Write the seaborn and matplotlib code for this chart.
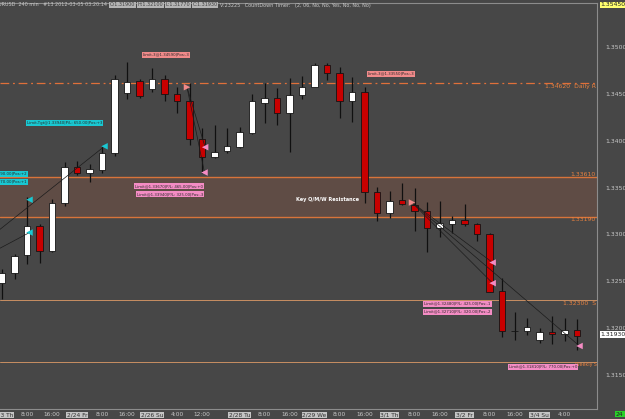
import matplotlib
matplotlib.use('Agg')
import matplotlib.pyplot as plt
import matplotlib.transforms as mtransforms
import seaborn as sns

# EURUSD 240 min candles, bar 0 = 2/23 00:00
opens = [1.3248, 1.3259, 1.3278, 1.3309, 1.3282, 1.3334, 1.3372, 1.3365, 1.3369, 1.3387,
         1.3451, 1.3464, 1.3455, 1.3466, 1.3450, 1.3442, 1.3402, 1.3383, 1.3389, 1.3393,
         1.3408, 1.3440, 1.3445, 1.3430, 1.3449, 1.3457, 1.3481, 1.3472, 1.3442, 1.3452,
         1.3345, 1.3323, 1.3337, 1.3331, 1.3325, 1.3307, 1.3311, 1.3315, 1.3311, 1.3300,
         1.3240, 1.3197, 1.3197, 1.3187, 1.3196, 1.3194, 1.3198]
highs = [1.3263, 1.3279, 1.3340, 1.3311, 1.3338, 1.3377, 1.3378, 1.3375, 1.3394, 1.3470,
         1.3484, 1.3466, 1.3478, 1.3470, 1.3457, 1.3462, 1.3414, 1.3417, 1.3413, 1.3415,
         1.3450, 1.3462, 1.3456, 1.3467, 1.3469, 1.3483, 1.3483, 1.3479, 1.3468, 1.3457,
         1.3351, 1.3346, 1.3355, 1.3349, 1.3335, 1.3336, 1.3320, 1.3332, 1.3312, 1.3302,
         1.3254, 1.3217, 1.3211, 1.3200, 1.3213, 1.3211, 1.3210]
lows = [1.3231, 1.3252, 1.3268, 1.3270, 1.3281, 1.3330, 1.3363, 1.3356, 1.3365, 1.3384,
        1.3444, 1.3445, 1.3452, 1.3442, 1.3430, 1.3395, 1.3366, 1.3382, 1.3387, 1.3392,
        1.3407, 1.3419, 1.3417, 1.3388, 1.3444, 1.3457, 1.3465, 1.3424, 1.3420, 1.3334,
        1.3314, 1.3318, 1.3331, 1.3304, 1.3281, 1.3297, 1.3301, 1.3309, 1.3293, 1.3239,
        1.3191, 1.3187, 1.3193, 1.3184, 1.3183, 1.3186, 1.3177]
closes = [1.3259, 1.3277, 1.3309, 1.3282, 1.3334, 1.3372, 1.3365, 1.3370, 1.3387, 1.3466,
          1.3463, 1.3448, 1.3466, 1.3450, 1.3442, 1.3402, 1.3383, 1.3388, 1.3394, 1.3409,
          1.3442, 1.3446, 1.3430, 1.3449, 1.3457, 1.3481, 1.3472, 1.3442, 1.3452, 1.3345,
          1.3323, 1.3336, 1.3332, 1.3325, 1.3307, 1.3312, 1.3315, 1.3311, 1.3300, 1.3239,
          1.3197, 1.3197, 1.3201, 1.3196, 1.3194, 1.3198, 1.3192]

tick_bars = [0, 2, 4, 6, 8, 10, 12, 14, 16, 19, 21, 23, 25, 27, 29, 31, 33, 35, 37, 39, 41, 43, 45]
tick_labels = ['2/23 Th', '8:00', '16:00', '2/24 Fr', '8:00', '16:00', '2/26 Su', '4:00', '12:00',
               '2/28 Tu', '8:00', '16:00', '2/29 We', '8:00', '16:00', '3/1 Th', '8:00', '16:00',
               '3/2 Fr', '8:00', '16:00', '3/4 Su', '4:00']
price_ticks = [1.315, 1.320, 1.325, 1.330, 1.335, 1.340, 1.345, 1.350]

zone_low, zone_high = 1.3319, 1.3361
daily_r = 1.3462
support_s = 1.3230
weekly_s = 1.3164

# order labels: (right edge bar, price, text, colour)
order_labels = [
    (8.0, 1.34186, 'Limit-Tgt@1.33940|P/L: 650.00|Pos:+3', '#19c8d2'),
    (2.0, 1.33644, 'Limit-Tgt@1.33940|P/L: 590.00|Pos:+2', '#19c8d2'),
    (2.0, 1.33559, 'Limit-Tgt@1.33940|P/L: 570.00|Pos:+1', '#19c8d2'),
    (15.0, 1.34915, 'Limit-3@1.34590|Pos:-3', '#f08a8a'),
    (33.0, 1.34713, 'Limit-3@1.33550|Pos:-3', '#f08a8a'),
    (16.1, 1.33516, 'Limit@1.33670|P/L: 465.00|Pos:+0', '#f48cc4'),
    (16.1, 1.33426, 'Limit@1.33940|P/L: 325.00|Pos:-3', '#f48cc4'),
    (39.1, 1.32261, 'Limit@1.32480|P/L: 425.00|Pos:-1', '#f48cc4'),
    (39.1, 1.32176, 'Limit@1.32710|P/L: 320.00|Pos:-2', '#f48cc4'),
    (46.0, 1.31590, 'Limit@1.31810|P/L: 770.00|Pos:+0', '#f48cc4'),
]
# fill markers: (bar, price, marker, colour)
fills = [
    (2.2, 1.3337, '<', '#19c8d2'), (2.2, 1.3302, '<', '#19c8d2'), (8.2, 1.3394, '<', '#19c8d2'),
    (14.8, 1.3457, '>', '#f08a8a'), (16.25, 1.3393, '<', '#f48cc4'), (16.2, 1.3366, '<', '#f48cc4'),
    (32.8, 1.3334, '>', '#f08a8a'), (39.25, 1.3270, '<', '#f48cc4'), (39.25, 1.3248, '<', '#f48cc4'),
    (46.2, 1.3181, '<', '#f48cc4'),
]
# trade lines: (bar0, price0, bar1, price1)
trade_lines = [
    (-0.2, 1.3305, 8.2, 1.3394), (-0.2, 1.3285, 2.2, 1.3302),
    (14.8, 1.3457, 16.25, 1.3393), (14.8, 1.3457, 16.2, 1.3366),
    (32.8, 1.3334, 39.25, 1.3270), (32.8, 1.3334, 39.25, 1.3248), (32.8, 1.3334, 46.2, 1.3181),
]

header_parts = [('EURUSD  240 min   #13 2012-03-05 03:20:14', False), ('O:1.31900', True),
                ('H:1.32100', True), ('L:1.31770', True), ('C:1.31930', True),
                ('V:23225   CountDown Timer:   (2, 06, No, No, Yes, No, No, No)', False)]

bg = '#474747'
sns.set_theme(style='dark', rc={'axes.facecolor': bg, 'figure.facecolor': bg,
                                'axes.edgecolor': '#8c8c8c', 'axes.grid': False})
plt.rcParams['font.family'] = ['Liberation Sans Narrow', 'DejaVu Sans']

fig = plt.figure(figsize=(6.25, 4.19), dpi=100)
ax = fig.add_axes([0, 10 / 419, 597 / 625, 406 / 419])

# zone and levels
ax.axhspan(zone_low, zone_high, color='#5f4c45', zorder=0, lw=0)
ax.axhline(zone_high, color='#d8743a', lw=1.0, zorder=1)
ax.axhline(zone_low, color='#d8743a', lw=1.0, zorder=1)
ax.axhline(daily_r, color='#e0703a', lw=0.9, ls=(0, (7, 3, 1.5, 3)), zorder=1)
ax.axhline(support_s, color='#c98f62', lw=0.7, zorder=1)
ax.axhline(weekly_s, color='#c98f62', lw=0.7, zorder=1)

# candles
bars = list(range(len(opens)))
ax.vlines(bars, lows, highs, color='#101010', lw=0.9, zorder=2)
for i in bars:
    o, c = opens[i], closes[i]
    col = '#c80000' if c < o else '#ffffff'
    h = max(abs(c - o), 0.00003)
    ax.bar(i, h, bottom=min(o, c), width=0.5, color=col, edgecolor='#141414', lw=0.6, zorder=3)

# trade lines and fills
for b0, p0, b1, p1 in trade_lines:
    ax.plot([b0, b1], [p0, p1], color='#1c1c1c', lw=0.5, zorder=4)
for b, p, m, col in fills:
    ax.scatter(b, p, marker=m, s=22, color=col, edgecolors='none', zorder=6)

for b, p, txt, col in order_labels:
    ax.text(b, p, txt, ha='right', va='center', fontsize=2.8, color='#2a2a2a',
            bbox=dict(facecolor=col, edgecolor='none', pad=0.7), zorder=7, clip_on=True)

# level texts
lvl = dict(color='#e8813f', zorder=5)
ax.text(47.5, daily_r - 0.0002, '1.34620  Daily R', ha='right', va='top', fontsize=4.4, **lvl)
ax.text(47.5, zone_high + 0.00005, '1.33610', ha='right', va='bottom', fontsize=4.4, **lvl)
ax.text(47.5, zone_low - 0.00005, '1.33190', ha='right', va='top', fontsize=4.4, **lvl)
ax.text(47.5, support_s - 0.0001, '1.32300  S', ha='right', va='top', fontsize=4.4, **lvl)
ax.text(47.58, weekly_s - 0.00005, 'Weekly S', ha='right', va='top', fontsize=3.4, **lvl)
ax.text(26.0, 1.3337, 'Key Q/M/W Resistance', ha='center', va='center',
        fontsize=3.6, color='white', fontweight='bold', zorder=5)

ax.set_xlim(-0.16, 47.6)
ax.set_ylim(1.31138, 1.35468)
ax.yaxis.tick_right()
ax.set_yticks(price_ticks)
ax.set_yticklabels([f'{t:.5f}' for t in price_ticks])
ax.tick_params(axis='y', length=0, pad=6, labelsize=4.4, labelcolor='#c8c8c8')
ax.set_xticks(tick_bars)
ax.set_xticklabels(tick_labels)
ax.tick_params(axis='x', length=0, pad=2.5, labelsize=4.2, labelcolor='#c8c8c8')
for lbl in ax.get_xticklabels():
    if '/' in lbl.get_text():
        lbl.set_color('#303030')
        lbl.set_bbox(dict(facecolor='#c4c4c4', edgecolor='none', pad=0.5))
ax.spines['left'].set_visible(False)
for side in ['top', 'right', 'bottom']:
    ax.spines[side].set_color('#8c8c8c')
    ax.spines[side].set_linewidth(0.8)

# price boxes on the scale
tr = mtransforms.blended_transform_factory(ax.transAxes, ax.transData)
ax.text(1.006, 1.3545, '1.35450', transform=tr, ha='left', va='center', fontsize=4.4,
        color='#202020', bbox=dict(facecolor='#ffff70', edgecolor='none', pad=0.5), clip_on=False)
ax.text(1.006, 1.3193, '1.31930', transform=tr, ha='left', va='center', fontsize=4.4,
        color='#202020', bbox=dict(facecolor='white', edgecolor='none', pad=0.6), clip_on=False)
fig.text(616 / 625, 5 / 419, '24', fontsize=4.4, color='#202020', va='center',
         bbox=dict(facecolor='#28d228', edgecolor='none', pad=0.7))

# header, laid out piece by piece
renderer = fig.canvas.get_renderer()
fy = 1 - 5 / 419
xpx = -5
for s, boxed in header_parts:
    if boxed:
        t = fig.text(xpx / 625, fy, s, fontsize=3.5, va='center', color='#404040',
                     bbox=dict(facecolor='#b4b4b4', edgecolor='none', pad=0.5))
    else:
        t = fig.text(xpx / 625, fy, s, fontsize=3.5, va='center', color='#c8c8c8')
    xpx = t.get_window_extent(renderer).x1 + 2.5

fig.savefig('out.png', dpi=100, facecolor=bg)
